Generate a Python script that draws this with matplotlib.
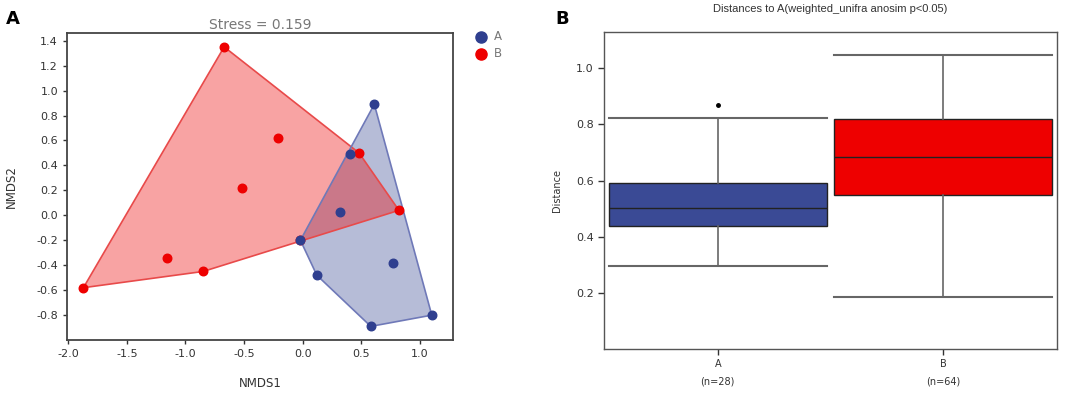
import numpy as np
import matplotlib
matplotlib.use("Agg")
import matplotlib.pyplot as plt

# NMDS coordinates
a_x = [0.61, 0.40, 0.32, -0.02, 0.12, 0.77, 0.58, 1.10]
a_y = [0.89, 0.49, 0.03, -0.20, -0.48, -0.38, -0.89, -0.80]
b_x = [-0.67, -0.21, -0.52, 0.48, 0.82, -1.16, -0.85, -1.87, -0.02]
b_y = [1.35, 0.62, 0.22, 0.50, 0.04, -0.34, -0.45, -0.58, -0.20]

# box statistics
groups = ["A", "B"]
counts = [28, 64]
q1 = [0.439, 0.548]
med = [0.504, 0.685]
q3 = [0.590, 0.819]
whislo = [0.295, 0.186]
whishi = [0.823, 1.047]
fliers = [[0.868], []]

red = "#ee0000"
blue = "#2f3f8f"


def hull(xs, ys):
    pts = sorted(set(zip(xs, ys)))

    def cross(o, a, b):
        return (a[0] - o[0]) * (b[1] - o[1]) - (a[1] - o[1]) * (b[0] - o[0])

    lower, upper = [], []
    for p in pts:
        while len(lower) >= 2 and cross(lower[-2], lower[-1], p) <= 0:
            lower.pop()
        lower.append(p)
    for p in reversed(pts):
        while len(upper) >= 2 and cross(upper[-2], upper[-1], p) <= 0:
            upper.pop()
        upper.append(p)
    return np.array(lower[:-1] + upper[:-1])


fig = plt.figure(figsize=(10.84, 3.95), dpi=100)

# ---- panel A ----
ax1 = fig.add_axes([0.0618, 0.139, 0.356, 0.777])
hb = hull(b_x, b_y)
ha = hull(a_x, a_y)
ax1.fill(ha[:, 0], ha[:, 1], facecolor=blue, alpha=0.35, edgecolor="none", zorder=1)
ax1.fill(hb[:, 0], hb[:, 1], facecolor=red, alpha=0.36, edgecolor="none", zorder=2)
ax1.fill(hb[:, 0], hb[:, 1], facecolor="none", edgecolor="#e84a4a", lw=1.2, zorder=3)
ax1.fill(ha[:, 0], ha[:, 1], facecolor="none", edgecolor="#6f79b8", lw=1.2, zorder=3)
ax1.scatter(b_x, b_y, s=38, color=red, zorder=4, label="B")
ax1.scatter(a_x, a_y, s=38, color=blue, zorder=5, label="A")
ax1.set_xlim(-2.01, 1.28)
ax1.set_ylim(-1.0, 1.46)
xt = np.round(np.arange(-2.0, 1.01, 0.5), 1)
yt = np.round(np.arange(-0.8, 1.41, 0.2), 1)
ax1.set_xticks(xt)
ax1.set_yticks(yt)
ax1.set_xticklabels([f"{v + 0.0:.1f}" for v in xt])
ax1.set_yticklabels([f"{v + 0.0:.1f}" for v in yt])
for s in ax1.spines.values():
    s.set_color("#444444")
    s.set_linewidth(1.3)
ax1.tick_params(labelsize=8, colors="#333333", length=3, width=1)
ax1.set_xlabel("NMDS1", fontsize=8.5, color="#333333", labelpad=13)
ax1.set_ylabel("NMDS2", fontsize=8.5, color="#333333", labelpad=13)
ax1.set_title("Stress = 0.159", fontsize=10, color="#777777", pad=3)
h, l = ax1.get_legend_handles_labels()
ax1.legend(h[::-1], l[::-1], loc="upper left", bbox_to_anchor=(1.03, 1.025), frameon=False,
           fontsize=8.5, labelcolor="#777777", handletextpad=0.1, borderaxespad=0,
           labelspacing=0.3, markerscale=1.3)
fig.text(0.005, 0.975, "A", fontsize=13, fontweight="bold", va="top")

# ---- panel B ----
ax2 = fig.add_axes([0.5575, 0.1165, 0.4173, 0.803])
stats = []
for i in range(len(groups)):
    stats.append(dict(med=med[i], q1=q1[i], q3=q3[i], whislo=whislo[i],
                      whishi=whishi[i], fliers=fliers[i], label=f"{groups[i]}\n(n={counts[i]})"))
bp = ax2.bxp(stats, positions=[1, 2], widths=0.965, patch_artist=True,
             capwidths=0.965,
             boxprops=dict(edgecolor="#222222", linewidth=1.0),
             medianprops=dict(color="#222222", linewidth=1.0),
             whiskerprops=dict(color="#666666", linewidth=1.2),
             capprops=dict(color="#666666", linewidth=1.5),
             flierprops=dict(marker="o", markersize=2.5, markerfacecolor="black",
                             markeredgecolor="black"))
for patch, c in zip(bp["boxes"], ["#3a4a95", red]):
    patch.set_facecolor(c)
ax2.set_xlim(0.497, 2.503)
ax2.set_ylim(0, 1.13)
ax2.set_yticks([0.2, 0.4, 0.6, 0.8, 1.0])
ax2.set_yticklabels(["0.2", "0.4", "0.6", "0.8", "1.0"])
for s in ax2.spines.values():
    s.set_color("#555555")
    s.set_linewidth(1.0)
ax2.tick_params(labelsize=8, colors="#333333", length=4, width=1)
for lab in ax2.get_xticklabels():
    lab.set_fontsize(7)
    lab.set_linespacing(1.9)
ax2.set_ylabel("Distance", fontsize=7, color="#333333", labelpad=10)
ax2.set_title("Distances to A(weighted_unifra anosim p<0.05)", fontsize=8,
              color="#333333", pad=14, family="Liberation Sans")
fig.text(0.512, 0.975, "B", fontsize=13, fontweight="bold", va="top")

fig.savefig("out.png", dpi=100)
